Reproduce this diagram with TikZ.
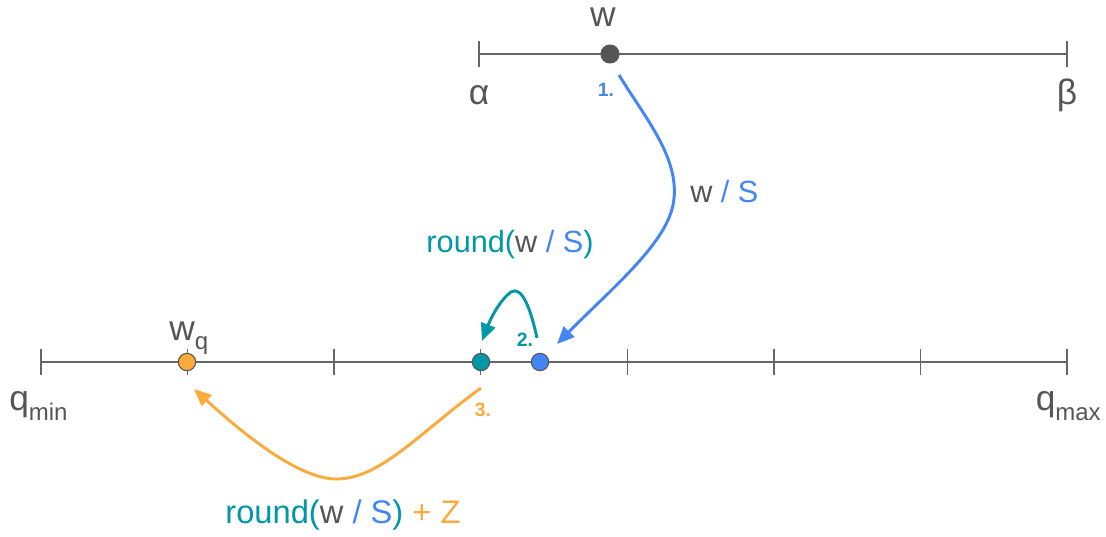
\documentclass[tikz,border=0pt]{standalone}
\usepackage{fontspec}
\setmainfont{Liberation Sans}
\usetikzlibrary{arrows.meta}
\definecolor{axisgray}{HTML}{666666}
\definecolor{txtgray}{HTML}{555555}
\definecolor{gblue}{HTML}{4285F4}
\definecolor{gteal}{HTML}{0097A7}
\definecolor{gorange}{HTML}{FBAA3C}
\newcommand{\biglbl}{\fontsize{26.5}{30}\selectfont}
\newcommand{\midlbl}{\fontsize{23}{27}\selectfont}
\newcommand{\botlbl}{\fontsize{24.5}{28}\selectfont}
\newcommand{\sublbl}{\fontsize{18}{21}\selectfont}
\newcommand{\numlbl}{\fontsize{14.5}{17}\selectfont\bfseries}
\begin{document}
\begin{tikzpicture}[x=0.75pt,y=-0.75pt,
  axis/.style={draw=axisgray,line width=1.1pt},
  tick/.style={draw=axisgray,line width=1.1pt},
  dot/.style={circle,inner sep=0pt,minimum size=13pt,draw=txtgray,line width=0.8pt},
  conn/.style={line width=2.2pt,-{Triangle[length=13pt,width=11pt]}},
  lbl/.style={inner sep=0pt,text=txtgray}]
\useasboundingbox (0,0) rectangle (1106,536);
% top axis
\coordinate (a0) at (479,54);
\coordinate (a1) at (1067,54);
\draw[axis] (a0) -- (a1);
\draw[tick] (479,41) -- (479,67);
\draw[tick] (1067,41) -- (1067,67);
\node[dot,fill=txtgray,minimum size=13.5pt] (w) at (610,54) {};
\node[lbl,font=\biglbl] (wl) at (603,17) {w};
\node[lbl,font=\biglbl] (al) at (479,95) {α};
\node[lbl,font=\biglbl] (bl) at (1067,95) {β};
% bottom axis
\coordinate (b0) at (41,362);
\coordinate (b1) at (1067,362);
\draw[axis] (b0) -- (b1);
\foreach \x in {41,187.6,334.1,480.7,627.3,773.9,920.4,1067}
  \draw[tick] (\x,349) -- (\x,375);
\node[dot,fill=gorange] (wq) at (187,362) {};
\node[dot,fill=gteal] (rt) at (481,362) {};
\node[dot,fill=gblue] (bp) at (540,362) {};
\node[lbl,font=\biglbl,anchor=base west] (wql) at (169,340) {w\raisebox{-7pt}{\sublbl q}};
\node[lbl,font=\biglbl,anchor=base west] (qminl) at (9,410) {q\raisebox{-8pt}{\sublbl min}};
\node[lbl,font=\biglbl,anchor=base east] (qmaxl) at (1101,410) {q\raisebox{-8pt}{\sublbl max}};
% arrow 1 (blue)
\coordinate (s1) at (619,75);
\coordinate (e1) at (557,344);
\draw[conn,gblue] (s1) .. controls (645,118) and (682,160) .. (673,205)
  .. controls (665,245) and (610,290) .. (e1);
\node[font=\numlbl,text=gblue] (n1) at (606,90) {1.};
\node[lbl,font=\midlbl,anchor=west] (ws) at (690,192) {w \textcolor{gblue}{/ S}};
% arrow 2 (teal)
\coordinate (s2) at (537,338);
\coordinate (e2) at (482,341);
\draw[conn,gteal] (s2) .. controls (531,310) and (522,285) .. (511,292)
  .. controls (502,298) and (492,315) .. (e2);
\node[font=\numlbl,text=gteal] (n2) at (525,340) {2.};
\node[lbl,font=\midlbl,text=gteal] (rl) at (510,245) {round(\textcolor{txtgray}{w} \textcolor{gblue}{/ S})};
% arrow 3 (orange)
\coordinate (s3) at (481,388);
\coordinate (e3) at (194,389);
\draw[conn,gorange] (s3) .. controls (420,432) and (380,480) .. (335,479)
  .. controls (300,478) and (250,440) .. (e3);
\node[font=\numlbl,text=gorange] (n3) at (483,410) {3.};
\node[lbl,font=\botlbl,text=gteal] (rzl) at (343,515) {round(\textcolor{txtgray}{w} \textcolor{gblue}{/ S}) \textcolor{gorange}{+ Z}};
\end{tikzpicture}
\end{document}
